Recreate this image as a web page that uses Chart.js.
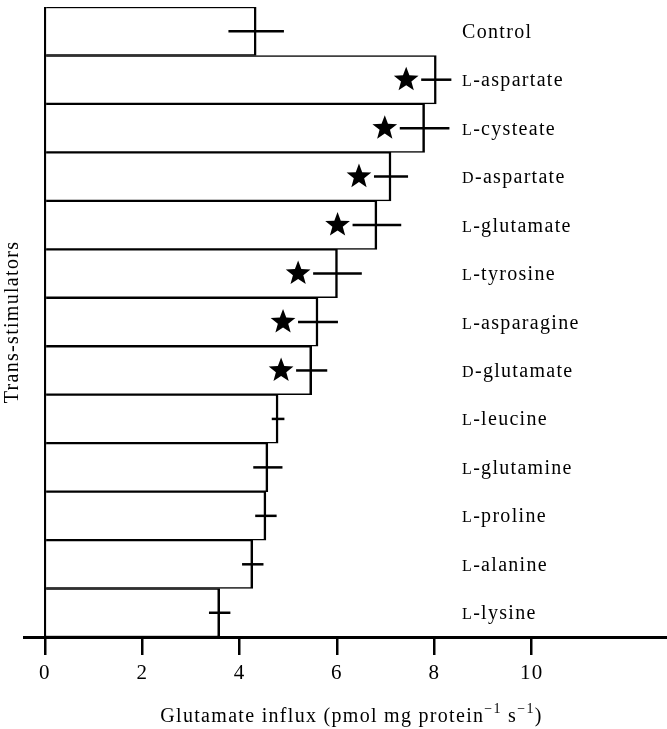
<!DOCTYPE html>
<html lang="en">
<head>
    <meta charset="UTF-8">
    <title>Glutamate influx | trans-stimulators</title>
    <script src="https://cdn.jsdelivr.net/npm/chart.js"></script>
    <style>
        html, body { margin: 0; padding: 0; background: #ffffff; }
        #grafico { display: block; }
    </style>
</head>
<body>
    <canvas id="grafico" width="667" height="729"></canvas>

<script>
    // amino acids used as trans-stimulators, top to bottom
    const stimulators = ['Control', 'L-aspartate', 'L-cysteate', 'D-aspartate', 'L-glutamate', 'L-tyrosine',
        'L-asparagine', 'D-glutamate', 'L-leucine', 'L-glutamine', 'L-proline', 'L-alanine', 'L-lysine'];

    // glutamate influx (pmol mg protein-1 s-1) and its error
    const influx = [4.34, 8.04, 7.80, 7.11, 6.82, 6.01, 5.61, 5.48, 4.79, 4.58, 4.54, 4.27, 3.59];
    const influxErr = [0.57, 0.31, 0.51, 0.35, 0.50, 0.50, 0.41, 0.32, 0.13, 0.30, 0.22, 0.22, 0.22];

    // significantly different from control (star)
    const significant = [false, true, true, true, true, true, true, true, false, false, false, false, false];

    const xTicks = [0, 2, 4, 6, 8, 10];

    // x title pieces: [text, superscript?]
    const xTitleParts = [['Glutamate influx (pmol mg protein', false], ['\u22121', true], [' s', false], ['\u22121', true], [')', false]];

    const serif = "'Liberation Serif', 'Times New Roman', serif";
    const spacing = '1.3px';

    // wider text, like the printed figure
    const letterSpacing = {
        id: 'letterSpacing',
        beforeLayout(chart) { chart.ctx.letterSpacing = spacing; },
        beforeDraw(chart) { chart.ctx.letterSpacing = spacing; }
    };

    function drawStar(ctx, cx, cy, r) {
        const inner = r * 0.42;
        ctx.beginPath();
        for (let k = 0; k < 10; k++) {
            const rad = k % 2 === 0 ? r : inner;
            const ang = -Math.PI / 2 + k * Math.PI / 5;
            const px = cx + rad * Math.cos(ang);
            const py = cy + rad * Math.sin(ang);
            if (k === 0) ctx.moveTo(px, py); else ctx.lineTo(px, py);
        }
        ctx.closePath();
        ctx.fill();
    }

    // horizontal error bars + stars left of them
    const errorBars = {
        id: 'errorBars',
        afterDatasetsDraw(chart) {
            const { ctx, scales: { x, y } } = chart;
            ctx.save();
            ctx.strokeStyle = '#000';
            ctx.fillStyle = '#000';
            ctx.lineWidth = 2.5;
            for (let i = 0; i < influx.length; i++) {
                const yc = y.getPixelForValue(i);
                const x1 = x.getPixelForValue(influx[i] - influxErr[i]);
                const x2 = x.getPixelForValue(influx[i] + influxErr[i]);
                ctx.beginPath();
                ctx.moveTo(x1, yc);
                ctx.lineTo(x2, yc);
                ctx.stroke();
                if (significant[i]) {
                    drawStar(ctx, x1 - 15, yc, 13);
                }
            }
            ctx.restore();
        }
    };

    // names written on the right, L- and D- prefixes in small caps
    const rowLabels = {
        id: 'rowLabels',
        afterDatasetsDraw(chart) {
            const { ctx, scales: { x, y } } = chart;
            const left = x.getPixelForValue(8.57);
            ctx.save();
            ctx.fillStyle = '#000';
            ctx.textAlign = 'left';
            ctx.textBaseline = 'alphabetic';
            ctx.letterSpacing = spacing;
            stimulators.forEach((nome, i) => {
                const base = y.getPixelForValue(i) + 6.5;
                let pos = left;
                const m = nome.match(/^([LD])(-.*)$/);
                let resto = nome;
                if (m) {
                    ctx.font = `16px ${serif}`;
                    ctx.fillText(m[1], pos, base);
                    pos += ctx.measureText(m[1]).width;
                    resto = m[2];
                }
                ctx.font = `20px ${serif}`;
                ctx.fillText(resto, pos, base);
            });
            ctx.restore();
        }
    };

    // x axis title with real superscripts
    const xTitle = {
        id: 'xTitle',
        afterDraw(chart) {
            const { ctx, chartArea } = chart;
            ctx.save();
            ctx.fillStyle = '#000';
            ctx.textAlign = 'left';
            ctx.textBaseline = 'alphabetic';
            ctx.letterSpacing = spacing;
            const fontOf = (sup) => (sup ? `14px ${serif}` : `20px ${serif}`);
            let total = 0;
            xTitleParts.forEach(([t, sup]) => { ctx.font = fontOf(sup); total += ctx.measureText(t).width; });
            let pos = (chartArea.left + chartArea.right) / 2 - total / 2 + 6;
            const base = chartArea.bottom + 85;
            xTitleParts.forEach(([t, sup]) => {
                ctx.font = fontOf(sup);
                ctx.fillText(t, pos, sup ? base - 9 : base);
                pos += ctx.measureText(t).width;
            });
            ctx.restore();
        }
    };

    const config = {
        type: 'bar',
        data: {
            labels: stimulators,
            datasets: [{
                data: influx,
                backgroundColor: '#ffffff',
                borderColor: '#000000',
                borderWidth: { top: 1.5, bottom: 1.5, left: 2.5, right: 2.5 },
                barPercentage: 1,
                categoryPercentage: 1
            }]
        },
        options: {
            indexAxis: 'y',
            responsive: false,
            animation: false,
            layout: { padding: { top: 7, right: 0, bottom: 37, left: 0 } },
            plugins: {
                legend: { display: false },
                tooltip: { enabled: false }
            },
            scales: {
                x: {
                    type: 'linear',
                    min: -0.43,
                    max: 12.78,
                    afterBuildTicks: (escala) => { escala.ticks = xTicks.map(v => ({ value: v })); },
                    ticks: {
                        color: '#000',
                        font: { family: serif, size: 21, lineHeight: 1 },
                        padding: 8,
                        maxRotation: 0,
                        autoSkip: false
                    },
                    grid: {
                        color: (c) => (c.tick && c.tick.value === 0 ? '#000' : 'transparent'),
                        lineWidth: 2.5,
                        tickColor: '#000',
                        tickWidth: 2.5,
                        tickLength: 18
                    },
                    border: { display: true, color: '#000', width: 3 },
                    title: { display: false }
                },
                y: {
                    type: 'category',
                    ticks: { display: false },
                    grid: { display: false, drawTicks: false },
                    border: { display: false },
                    title: {
                        display: true,
                        text: 'Trans-stimulators',
                        color: '#000',
                        font: { family: serif, size: 20, lineHeight: 1.1 },
                        padding: { top: 2, bottom: 0 }
                    }
                }
            }
        },
        plugins: [letterSpacing, errorBars, rowLabels, xTitle]
    };

    const grafico = new Chart(document.getElementById('grafico'), config);
</script>
</body>
</html>
